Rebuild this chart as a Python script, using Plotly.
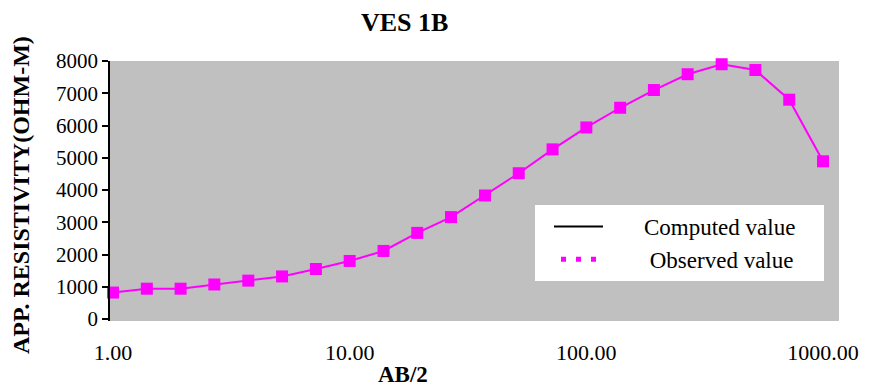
import plotly.graph_objects as go

# AB/2 spacing (m) and observed apparent resistivity (ohm-m)
ab2 = [1.0, 1.39, 1.93, 2.68, 3.73, 5.18, 7.2, 10.0, 13.9, 19.3, 26.8,
       37.3, 51.8, 72.0, 100.0, 139.0, 193.0, 268.0, 373.0, 518.0, 720.0, 1000.0]
observed = [820, 940, 940, 1070, 1190, 1320, 1550, 1800, 2110, 2670, 3160,
            3830, 4520, 5260, 5940, 6550, 7100, 7590, 7900, 7720, 6800, 4890]

x_tickvals = [1, 10, 100, 1000]
x_ticktext = ["1.00", "10.00", "100.00", "1000.00"]
y_tickvals = [0, 1000, 2000, 3000, 4000, 5000, 6000, 7000, 8000]

FONT = "Liberation Serif, Times New Roman, serif"
MAGENTA = "#FF00FF"
NB = "\u00a0"

fig = go.Figure()

# legend-only entries (dash patterns shape the legend symbols)
fig.add_trace(go.Scatter(x=[None], y=[None], mode="lines",
                         name="Computed value" + NB * 4,
                         line=dict(color="black", width=2, dash="0px,14px,49px,400px")))
fig.add_trace(go.Scatter(x=[None], y=[None], mode="lines",
                         name=NB + "Observed value",
                         line=dict(color=MAGENTA, width=5,
                                   dash="0px,21px,5px,10px,5px,10px,5px,400px")))

# observed data
fig.add_trace(go.Scatter(x=ab2, y=observed, mode="lines+markers", name="Observed value",
                         showlegend=False, cliponaxis=False,
                         line=dict(color=MAGENTA, width=2),
                         marker=dict(symbol="square", size=12, color=MAGENTA)))

L, R, T, B = 110, 47, 61, 68
W, H = 886, 389
PW, PH = W - L - R, H - T - B

fig.update_layout(
    width=W, height=H,
    margin=dict(l=L, r=R, t=T, b=B, pad=0, autoexpand=False),
    paper_bgcolor="white",
    plot_bgcolor="#C0C0C0",
    font=dict(family=FONT, color="black", size=22),
    showlegend=True,
    legend=dict(x=(535 - L) / PW, y=(H - B - 205) / PH,
                xanchor="left", yanchor="top",
                bgcolor="white", borderwidth=0,
                font=dict(family=FONT, size=23, color="black"),
                itemwidth=99, tracegroupgap=0),
    xaxis=dict(type="log", range=[-0.0127, 3.0676], automargin=False,
               tickvals=x_tickvals, ticktext=x_ticktext,
               showgrid=False, zeroline=False, showline=False,
               ticks="outside", ticklen=12, tickcolor="rgba(0,0,0,0)",
               tickfont=dict(family=FONT, size=22)),
    yaxis=dict(range=[-62, 8000], tickvals=y_tickvals, automargin=False,
               showgrid=False, zeroline=False,
               showline=True, linecolor="black", linewidth=1.5,
               ticks="outside", ticklen=6, tickcolor="black", tickwidth=1.5,
               tickfont=dict(family=FONT, size=21)),
    annotations=[
        dict(text="<b>VES 1B</b>", xref="paper", yref="paper",
             x=(404 - L) / PW, y=(H - B - 22) / PH,
             xanchor="center", yanchor="middle", showarrow=False,
             font=dict(family=FONT, size=26)),
        dict(text="<b>AB/2</b>", xref="paper", yref="paper",
             x=(403 - L) / PW, y=(H - B - 389) / PH,
             xanchor="center", yanchor="bottom", showarrow=False,
             font=dict(family=FONT, size=23)),
        dict(text="<b>APP. RESISTIVITY(OHM-M)</b>", xref="paper", yref="paper",
             x=(21 - L) / PW, y=(H - B - 195) / PH,
             xanchor="center", yanchor="middle", showarrow=False, textangle=-90,
             font=dict(family=FONT, size=24)),
    ],
)

fig.write_html("out.html", config={"displayModeBar": False},
               post_script="document.body.style.margin='0';document.body.style.overflow='hidden';")
